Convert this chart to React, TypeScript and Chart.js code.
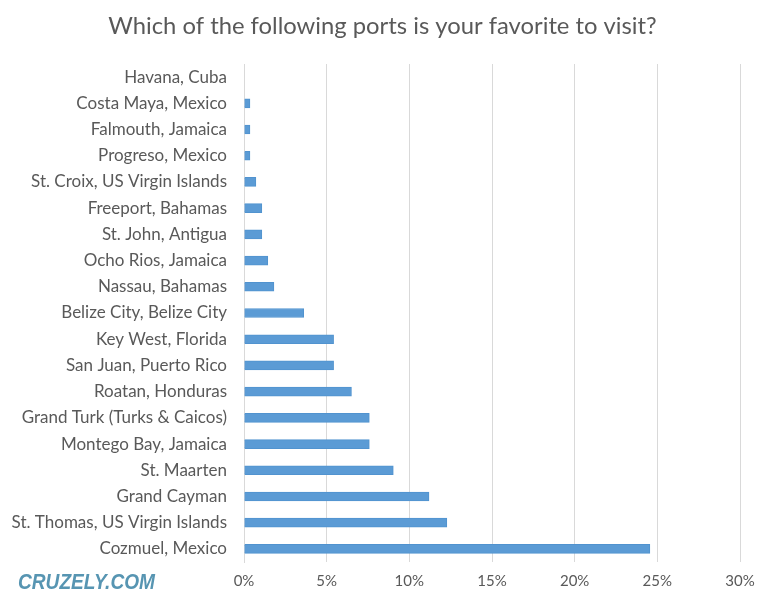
import React, { useEffect, useRef } from "react";
import { Chart, registerables } from "chart.js";

Chart.register(...registerables);

const ports = [
  "Havana, Cuba",
  "Costa Maya, Mexico",
  "Falmouth, Jamaica",
  "Progreso, Mexico",
  "St. Croix, US Virgin Islands",
  "Freeport, Bahamas",
  "St. John, Antigua",
  "Ocho Rios, Jamaica",
  "Nassau, Bahamas",
  "Belize City, Belize City",
  "Key West, Florida",
  "San Juan, Puerto Rico",
  "Roatan, Honduras",
  "Grand Turk (Turks & Caicos)",
  "Montego Bay, Jamaica",
  "St. Maarten",
  "Grand Cayman",
  "St. Thomas, US Virgin Islands",
  "Cozmuel, Mexico",
];

const sharePct = [
  0, 0.36, 0.36, 0.36, 0.72, 1.08, 1.08, 1.44, 1.81, 3.61, 5.42, 5.42, 6.5,
  7.58, 7.58, 9.03, 11.19, 12.27, 24.55,
];

const xTicks = [0, 5, 10, 15, 20, 25, 30];

const title = "Which of the following ports is your favorite to visit?";
const watermark = "CRUZELY.COM";

export default function App() {
  const ref = useRef<HTMLCanvasElement | null>(null);

  useEffect(() => {
    if (!ref.current) return;
    const textPlugin = {
      id: "texts",
      afterDraw(chart: any) {
        const ctx = chart.ctx;
        ctx.save();
        ctx.font = "23.8px Lato, 'Open Sans', sans-serif";
        ctx.fillStyle = "#595959";
        ctx.textBaseline = "middle";
        ctx.textAlign = "center";
        ctx.fillText(title, 382.5, 26);
        ctx.font = "italic bold 22px 'Liberation Sans', 'DejaVu Sans', sans-serif";
        ctx.fillStyle = "#5795b2";
        ctx.textAlign = "left";
        ctx.fillText(watermark, 18, 583, 137);
        ctx.restore();
      },
    };
    const chart = new Chart(ref.current, {
      type: "bar",
      data: {
        labels: ports,
        datasets: [
          {
            data: sharePct,
            backgroundColor: "#5B9BD5",
            borderColor: "#5193cf",
            borderWidth: 1,
            barThickness: 9,
          },
        ],
      },
      options: {
        indexAxis: "y",
        responsive: false,
        animation: false,
        layout: { padding: { left: 0, right: 25, top: 64, bottom: 0 } },
        plugins: {
          legend: { display: false },
          tooltip: { enabled: false },
          title: { display: false },
        },
        scales: {
          x: {
            min: 0,
            max: 30,
            afterBuildTicks(scale: any) {
              scale.ticks = xTicks.map((v) => ({ value: v }));
            },
            afterFit(scale: any) {
              scale.height = 40;
            },
            ticks: {
              color: "#595959",
              font: { family: "Lato, 'Open Sans', sans-serif", size: 15 },
              padding: 10,
              callback: (v: any) => `${v}%`,
            },
            grid: { color: "#d9d9d9", lineWidth: 1, drawTicks: false },
            border: { display: false },
          },
          y: {
            afterFit(scale: any) {
              scale.width = 244;
            },
            ticks: {
              color: "#595959",
              font: { family: "Lato, 'Open Sans', sans-serif", size: 17 },
              padding: 17,
              autoSkip: false,
            },
            grid: { display: false, drawTicks: false },
            border: { display: true, color: "#d9d9d9", width: 1 },
          },
        },
      },
      plugins: [textPlugin],
    });
    return () => chart.destroy();
  }, []);

  return (
    <div style={{ position: "absolute", left: 0, top: 0, width: 765, height: 602, background: "#fff" }}>
      <canvas ref={ref} width={765} height={602} style={{ width: 765, height: 602 }} />
    </div>
  );
}
